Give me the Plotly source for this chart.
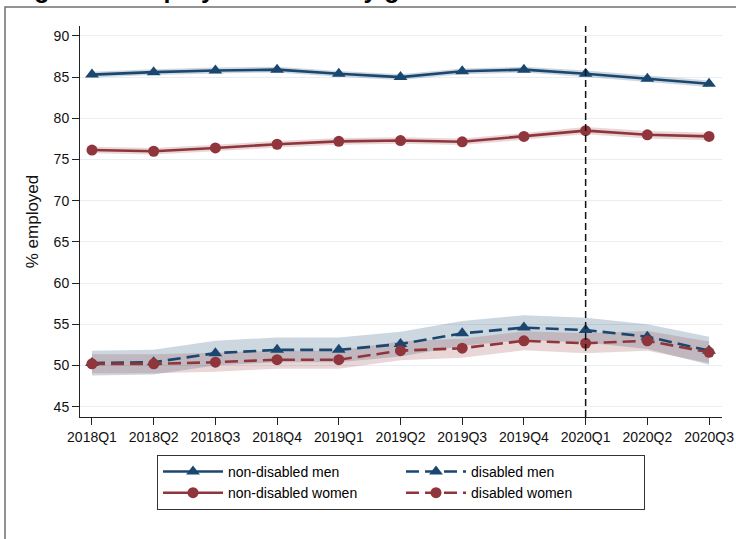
import plotly.graph_objects as go

quarters = ["2018Q1", "2018Q2", "2018Q3", "2018Q4", "2019Q1", "2019Q2",
            "2019Q3", "2019Q4", "2020Q1", "2020Q2", "2020Q3"]

nd_men = [85.3, 85.6, 85.8, 85.9, 85.4, 85.0, 85.7, 85.9, 85.4, 84.8, 84.2]
nd_men_lo = [84.95, 85.25, 85.45, 85.55, 85.05, 84.65, 85.35, 85.55, 85.0, 84.4, 83.8]
nd_men_hi = [85.65, 85.95, 86.15, 86.25, 85.75, 85.35, 86.05, 86.25, 85.8, 85.2, 84.6]

nd_women = [76.15, 76.0, 76.4, 76.85, 77.2, 77.3, 77.15, 77.8, 78.5, 78.0, 77.8]
nd_women_lo = [75.75, 75.6, 76.0, 76.45, 76.8, 76.9, 76.75, 77.4, 78.05, 77.55, 77.35]
nd_women_hi = [76.55, 76.4, 76.8, 77.25, 77.6, 77.7, 77.55, 78.2, 78.95, 78.45, 78.25]

d_men = [50.3, 50.4, 51.5, 51.9, 51.9, 52.6, 53.9, 54.6, 54.3, 53.5, 51.8]
d_men_lo = [48.8, 48.9, 50.0, 50.4, 50.4, 51.1, 52.4, 53.1, 52.8, 52.0, 50.1]
d_men_hi = [51.8, 51.9, 53.0, 53.4, 53.4, 54.1, 55.4, 56.1, 55.8, 55.0, 53.5]

d_women = [50.2, 50.2, 50.4, 50.7, 50.7, 51.8, 52.1, 53.0, 52.7, 53.0, 51.6]
d_women_lo = [49.05, 49.05, 49.25, 49.6, 49.6, 50.65, 50.95, 51.85, 51.5, 51.8, 50.3]
d_women_hi = [51.35, 51.35, 51.55, 51.8, 51.8, 52.95, 53.25, 54.15, 53.9, 54.2, 52.9]

yticks = [45, 50, 55, 60, 65, 70, 75, 80, 85, 90]
break_quarter = "2020Q1"

NAVY = "#1a476f"
MAROON = "#90353b"
NAVY_BAND = "rgba(26,71,111,0.22)"
MAROON_BAND = "rgba(144,53,59,0.20)"

x = list(range(len(quarters)))
fig = go.Figure()


def band(lo, hi, color):
    fig.add_trace(go.Scatter(x=x, y=lo, mode="lines", line=dict(width=0),
                             showlegend=False, hoverinfo="skip"))
    fig.add_trace(go.Scatter(x=x, y=hi, mode="lines", line=dict(width=0),
                             fill="tonexty", fillcolor=color,
                             showlegend=False, hoverinfo="skip"))


band(nd_men_lo, nd_men_hi, NAVY_BAND)
band(nd_women_lo, nd_women_hi, MAROON_BAND)
band(d_men_lo, d_men_hi, NAVY_BAND)
band(d_women_lo, d_women_hi, MAROON_BAND)

fig.add_trace(go.Scatter(x=x, y=nd_men, mode="lines+markers", name="non-disabled men",
                         line=dict(color=NAVY, width=2.6),
                         marker=dict(symbol="triangle-up", size=12, color=NAVY)))
fig.add_trace(go.Scatter(x=x, y=d_men, mode="lines+markers", name="disabled men",
                         line=dict(color=NAVY, width=2.6, dash="13px,6px"),
                         marker=dict(symbol="triangle-up", size=12, color=NAVY)))
fig.add_trace(go.Scatter(x=x, y=nd_women, mode="lines+markers", name="non-disabled women",
                         line=dict(color=MAROON, width=2.6),
                         marker=dict(symbol="circle", size=11, color=MAROON)))
fig.add_trace(go.Scatter(x=x, y=d_women, mode="lines+markers", name="disabled women",
                         line=dict(color=MAROON, width=2.6, dash="13px,6px"),
                         marker=dict(symbol="circle", size=11, color=MAROON)))

bx = quarters.index(break_quarter)
fig.add_shape(type="line", xref="x", yref="paper", x0=bx, x1=bx, y0=0, y1=1,
              line=dict(color="#111111", width=1.5, dash="7px,4px"))

# outer graph-region border (cropped)
fig.add_shape(type="rect", xref="paper", yref="paper",
              x0=-0.1168, x1=1.05, y0=-0.35, y1=1.0486,
              line=dict(color="#707070", width=1.5), layer="below")

fig.add_annotation(text="<b>Figure 1: Employment rates by gender</b>",
                   xref="paper", yref="paper", x=-0.109, y=1.0486 + 0.006,
                   xanchor="left", yanchor="bottom", showarrow=False,
                   font=dict(size=25, color="#000000"))

fig.update_layout(
    width=736, height=539,
    margin=dict(l=80, r=14, t=26, b=122, autoexpand=False),
    paper_bgcolor="white", plot_bgcolor="white",
    font=dict(family="Liberation Sans, Arial, sans-serif", color="#111111", size=14),
    legend=dict(orientation="h", x=0.5, xanchor="center", y=-0.097, yanchor="top",
                bordercolor="#333333", borderwidth=1, font=dict(size=14, color="#000000"),
                entrywidth=168, traceorder="normal", itemwidth=60),
    xaxis=dict(range=[-0.194, 10.21], tickmode="array", tickvals=x, ticktext=quarters,
               showgrid=False, zeroline=False, showline=True, linecolor="#222222",
               linewidth=1, ticks="outside", ticklen=7, tickcolor="#222222",
               tickfont=dict(size=14), automargin=False),
    yaxis=dict(range=[43.75, 91.2], tickmode="array", tickvals=yticks,
               showgrid=True, gridcolor="#e8eef3", gridwidth=1, zeroline=False,
               showline=True, linecolor="#222222", linewidth=1, ticks="outside",
               ticklen=7, tickcolor="#222222", tickfont=dict(size=14),
               automargin=False,
               title=dict(text="% employed", font=dict(size=17), standoff=10)),
)

fig.write_html("out.html")
